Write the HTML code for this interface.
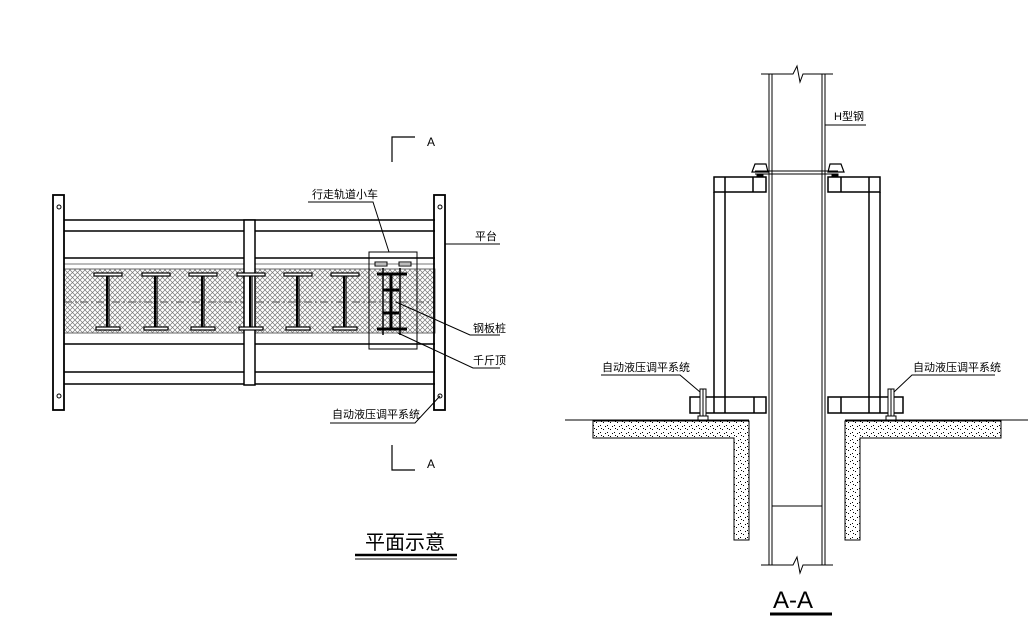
<!DOCTYPE html>
<html><head><meta charset="utf-8"><style>
html,body{margin:0;padding:0;background:#fff;}
svg{display:block;}
text{font-family:"Liberation Sans","Noto Sans CJK SC",sans-serif;fill:#000;}
</style></head><body>
<svg width="1028" height="633" viewBox="0 0 1028 633" xmlns="http://www.w3.org/2000/svg">
<defs>
<pattern id="hx" width="5" height="5" patternUnits="userSpaceOnUse">
<path d="M0,0L5,5M5,0L0,5" stroke="#777" stroke-width="0.7"/>
</pattern>
<pattern id="dots" width="7" height="7" patternUnits="userSpaceOnUse">
<rect x="1" y="2" width="1" height="1" fill="#000"/><rect x="5" y="5" width="1" height="1" fill="#000"/><rect x="6" y="1" width="1" height="1" fill="#000"/><rect x="3" y="6" width="1" height="1" fill="#000"/>
</pattern>
</defs>
<g fill="none" stroke="#000" stroke-width="1">
<!-- PLAN -->
<rect x="64" y="269" width="371" height="64" fill="url(#hx)" stroke="#666"/>
<line x1="64" y1="302" x2="435" y2="302" stroke-dasharray="8,3,2,3" stroke="#555"/>
<g stroke-width="1.5">
<line x1="64" y1="220" x2="435" y2="220"/><line x1="64" y1="231" x2="435" y2="231"/>
<line x1="64" y1="258" x2="244" y2="258"/><line x1="255" y1="258" x2="435" y2="258"/>
<line x1="64" y1="344" x2="244" y2="344"/><line x1="255" y1="344" x2="435" y2="344"/>
<line x1="64" y1="372" x2="435" y2="372"/><line x1="64" y1="384" x2="435" y2="384"/>
</g>
<line x1="64" y1="264" x2="435" y2="264" stroke="#777"/>
<rect x="53" y="195" width="11" height="215" stroke-width="1.8"/>
<rect x="434" y="195" width="11" height="215" stroke-width="1.8"/>
<rect x="244" y="220" width="11" height="165" stroke-width="1.5" fill="#fff"/>
<circle cx="59" cy="207" r="2"/><circle cx="440" cy="207" r="2"/>
<circle cx="59" cy="396" r="2"/><circle cx="440" cy="396" r="2"/>
<g stroke-width="1.2">
<g id="ib"><rect x="94" y="273" width="28" height="3" fill="#fff"/><rect x="96" y="327" width="24" height="3" fill="#fff"/><line x1="107" y1="276" x2="107" y2="327" stroke-width="2"/><line x1="109" y1="276" x2="109" y2="327"/></g>
<use href="#ib" x="48"/><use href="#ib" x="95"/><use href="#ib" x="143"/><use href="#ib" x="190"/><use href="#ib" x="237"/>
</g>
<rect x="369" y="252" width="48" height="97"/>
<rect x="375" y="262" width="12" height="4"/><rect x="399" y="262" width="12" height="4"/>
<g stroke-width="3">
<line x1="377" y1="274" x2="407" y2="274"/><line x1="377" y1="329" x2="407" y2="329"/>
<line x1="391" y1="274" x2="391" y2="329"/>
<line x1="383" y1="290" x2="399" y2="290"/><line x1="383" y1="313" x2="399" y2="313"/>
</g>
<line x1="383" y1="268" x2="383" y2="335" stroke-width="1.5"/><line x1="400" y1="268" x2="400" y2="335" stroke-width="1.5"/>
<polyline points="308,202 373,202 389,252"/>
<polyline points="445,244 500,244"/>
<polyline points="396,302 470,335 500,335"/>
<polyline points="398,333 473,368 500,368"/>
<polyline points="440,396 415,423 330,423"/>
<polyline points="392,162 392,137 415,137" stroke-width="1.2"/>
<polyline points="392,445 392,470 415,470" stroke-width="1.2"/>
<line x1="355" y1="555" x2="457" y2="555" stroke-width="2.5"/>
<line x1="355" y1="559" x2="457" y2="559"/>

<polyline points="761,74 793,74 797,66 800,82 803,74 833,74"/>
<polyline points="761,565 793,565 797,557 800,573 803,565 833,565"/>
<line x1="769" y1="74" x2="769" y2="565"/><line x1="772" y1="74" x2="772" y2="565"/>
<line x1="822" y1="74" x2="822" y2="565"/><line x1="825" y1="74" x2="825" y2="565"/>
<line x1="772" y1="506" x2="822" y2="506"/>
<polyline points="825,125 866,125"/>
<line x1="755" y1="171" x2="838" y2="171"/><line x1="755" y1="174" x2="838" y2="174"/>
<path d="M752,172 L755,164 L766,164 L768,172 Z" stroke-width="1.2"/>
<path d="M828,172 L830,164 L841,164 L844,172 Z" stroke-width="1.2"/>
<rect x="757" y="174" width="6" height="3" fill="#000"/><rect x="832" y="174" width="6" height="3" fill="#000"/>
<g stroke-width="1.5">
<rect x="714" y="177" width="52" height="15"/><line x1="725" y1="177" x2="725" y2="192"/><line x1="753" y1="177" x2="753" y2="192"/>
<line x1="714" y1="192" x2="714" y2="397"/><line x1="725" y1="192" x2="725" y2="397"/>
<rect x="690" y="397" width="76" height="16"/><line x1="714" y1="397" x2="714" y2="413"/><line x1="725" y1="397" x2="725" y2="413"/><line x1="754" y1="397" x2="754" y2="413"/>
<rect x="828" y="177" width="52" height="15"/><line x1="869" y1="177" x2="869" y2="192"/><line x1="841" y1="177" x2="841" y2="192"/>
<line x1="869" y1="192" x2="869" y2="397"/><line x1="880" y1="192" x2="880" y2="397"/>
<rect x="828" y="397" width="75" height="16"/><line x1="841" y1="397" x2="841" y2="413"/><line x1="869" y1="397" x2="869" y2="413"/><line x1="880" y1="397" x2="880" y2="413"/>
</g>
<rect x="700" y="389" width="6" height="29" fill="#fff"/><line x1="703" y1="389" x2="703" y2="420"/><rect x="698" y="416" width="10" height="4" fill="#fff"/>
<rect x="888" y="389" width="6" height="29" fill="#fff"/><line x1="891" y1="389" x2="891" y2="420"/><rect x="886" y="416" width="10" height="4" fill="#fff"/>
<line x1="565" y1="420" x2="749" y2="420"/><line x1="845" y1="420" x2="1028" y2="420"/>
<path d="M593,421 L749,421 L749,540 L734,540 L734,438 L593,438 Z" fill="url(#dots)"/>
<path d="M1001,421 L845,421 L845,540 L860,540 L860,438 L1001,438 Z" fill="url(#dots)"/>
<polyline points="601,375 680,375 700,392"/>
<polyline points="995,375 912,375 894,392"/>
<line x1="770" y1="614" x2="832" y2="614" stroke-width="3"/>
</g>
<g font-size="11">
<text x="312" y="198">行走轨道小车</text>
<text x="475" y="240">平台</text>
<text x="473" y="332">钢板桩</text>
<text x="473" y="364">千斤顶</text>
<text x="332" y="418">自动液压调平系统</text>
<text x="427" y="146" font-size="12">A</text>
<text x="427" y="468" font-size="12">A</text>
<text x="834" y="120">H型钢</text>
<text x="602" y="371">自动液压调平系统</text>
<text x="913" y="371">自动液压调平系统</text>
</g>
<text x="365" y="549" font-size="20">平面示意</text>
<text x="773" y="608" font-size="24">A-A</text>
</svg>
</body></html>
